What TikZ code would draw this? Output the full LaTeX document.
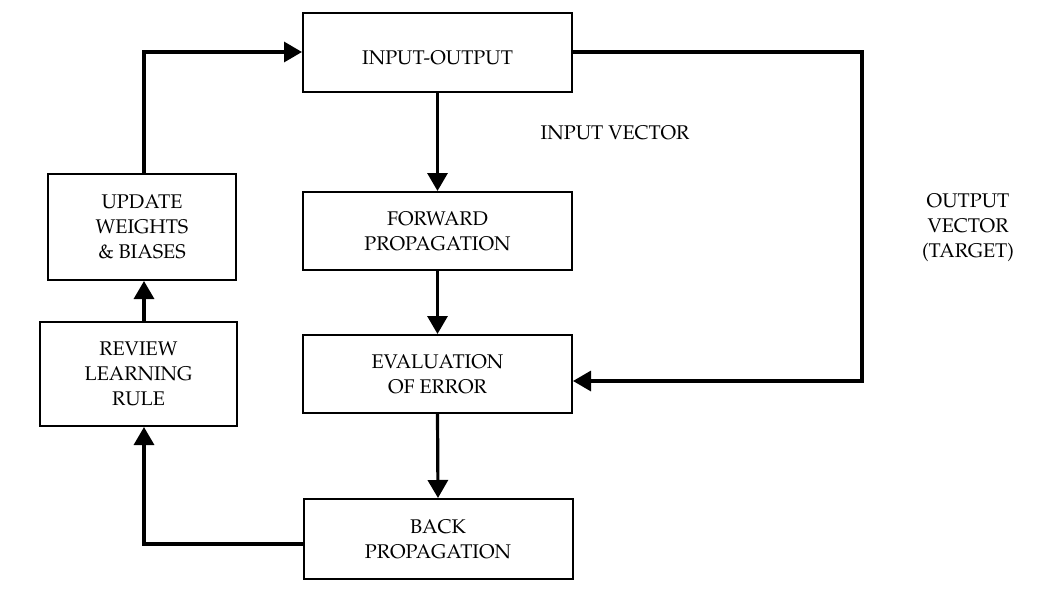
\documentclass[tikz,border=0pt]{standalone}
\usepackage[T1]{fontenc}
\usepackage{mathpazo}
\usetikzlibrary{arrows.meta, calc, positioning}

\begin{document}
\begin{tikzpicture}[x=0.5pt, y=-0.5pt, >={Triangle[length=9pt, width=10pt]},
    stagebox/.style={draw, line width=1pt, align=center, inner sep=0pt,
        font=\fontsize{9.9}{12.5}\selectfont},
    flow/.style={->, line width=1.6pt},
    tag/.style={align=center, font=\fontsize{9.9}{12.5}\selectfont}]
    \useasboundingbox (0,0) rectangle (1050,594);

    % Main column
    \node[stagebox, minimum width=134.5pt, minimum height=39.5pt, text height=12pt, text depth=0pt] (io) at (437.5,52.5) {INPUT-OUTPUT};
    \node[stagebox, minimum width=134.5pt, minimum height=39pt] (fwd) at (437.5,231) {FORWARD\\PROPAGATION};
    \node[stagebox, minimum width=134.5pt, minimum height=39pt] (err) at (437.5,374) {EVALUATION\\OF ERROR};
    \node[stagebox, minimum width=134.5pt, minimum height=40pt] (back) at (438,539) {BACK\\PROPAGATION};

    % Left column
    \node[stagebox, minimum width=94pt, minimum height=53pt] (upd) at (142,227) {UPDATE\\WEIGHTS\\\& BIASES};
    \node[stagebox, minimum width=98.5pt, minimum height=52pt] (rule) at (138.5,374) {REVIEW\\LEARNING\\RULE};

    % Labels
    \node[tag] (inlbl) at (615,133) {INPUT VECTOR};
    \node[tag] (outlbl) at (968,228) {OUTPUT\\VECTOR\\(TARGET)};

    % Forward pass
    \draw[flow] (io.south) -- (fwd.north);
    \draw[flow] (fwd.south) -- (err.north);
    \draw[flow] (err.south) -- (back.north);

    % Target feedback
    \coordinate (tr) at (862,52);
    \draw[flow] (io.east |- tr) -- (tr) -- (tr |- 0,381) -- (err.east |- 0,381);

    % Learning loop
    \draw[flow] (back.west |- 0,544) -- (144,544) -- (144,0 |- rule.south);
    \draw[flow] (144,0 |- rule.north) -- (144,0 |- upd.south);
    \draw[flow] (144,0 |- upd.north) -- (144,52) -- (io.west |- 0,52);
\end{tikzpicture}
\end{document}
